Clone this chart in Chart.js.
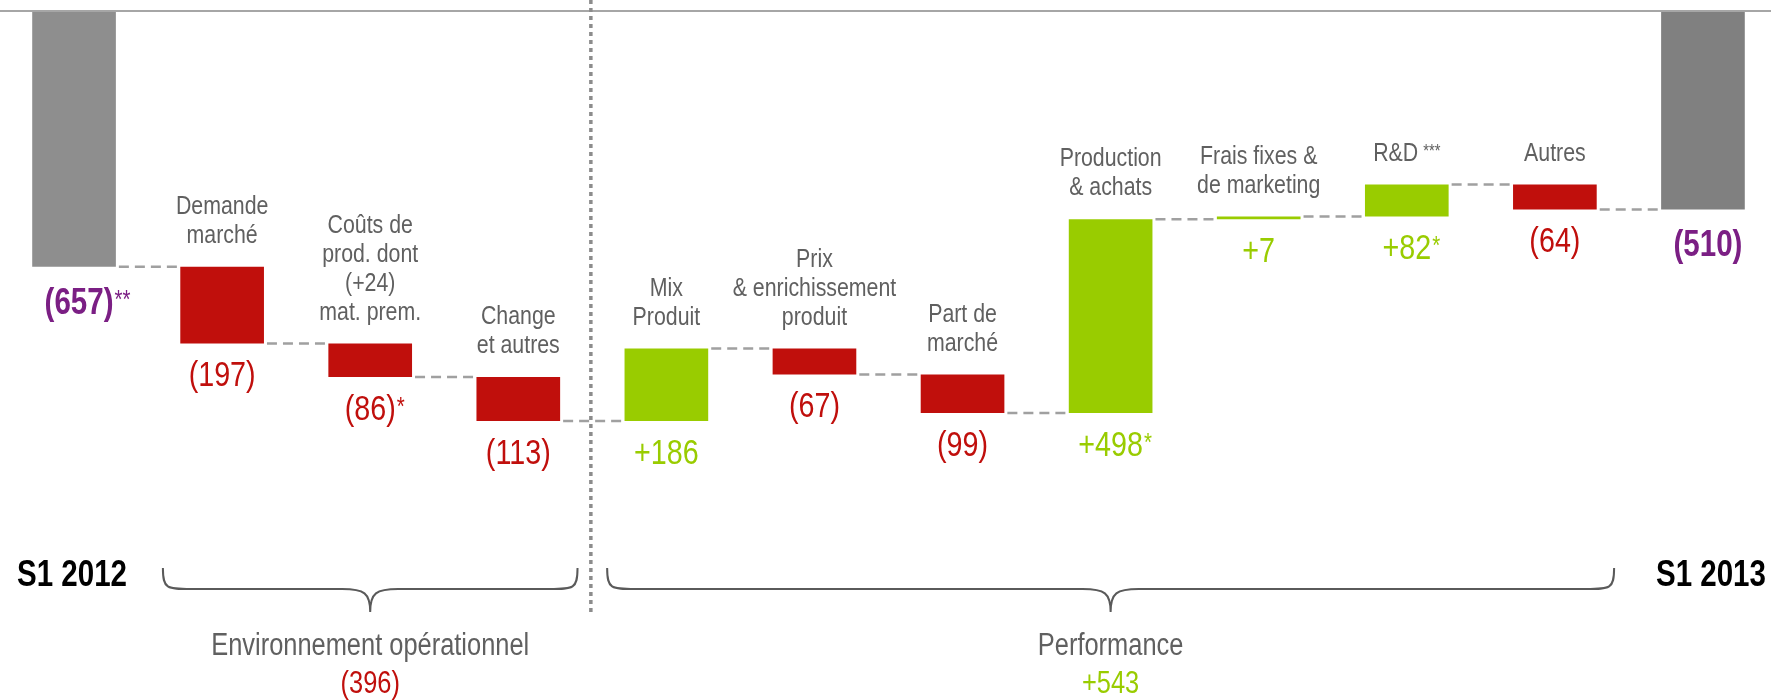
<!DOCTYPE html>
<html>
<head>
<meta charset="utf-8">
<script src="https://cdn.jsdelivr.net/npm/chart.js@4.4.1/dist/chart.umd.min.js"></script>
<style>
  html, body { margin: 0; padding: 0; background: #fff; overflow: hidden; }
  #wrap { width: 1777px; height: 700px; }
</style>
</head>
<body>
<div id="wrap"><canvas id="chart"></canvas></div>
<script>
// waterfall S1 2012 -> S1 2013
const categories = [
  [], ["Demande", "marché"], ["Coûts de", "prod. dont", "(+24)", "mat. prem."], ["Change", "et autres"],
  ["Mix", "Produit"], ["Prix", "& enrichissement", "produit"], ["Part de", "marché"], ["Production", "& achats"],
  ["Frais fixes &", "de marketing"], ["R&D ***"], ["Autres"], []
];
const values = [-657, -197, -86, -113, 186, -67, -99, 498, 7, 82, -64, -510];
const isTotal = [true, false, false, false, false, false, false, false, false, false, false, true];
const valueLabels = ["(657)**", "(197)", "(86)*", "(113)", "+186", "(67)", "(99)", "+498*", "+7", "+82*", "(64)", "(510)"];
const periodLabels = ["S1 2012", "S1 2013"];
const groupNames = ["Environnement opérationnel", "Performance"];
const groupTotals = ["(396)", "+543"];
const groupFirst = [1, 4];
const groupLast = [3, 10];

const FONT = '"Liberation Sans", Arial, sans-serif';
const NARROW = 0.82; // squeeze to look like a narrow face
const RED = "#c00f0c", GREEN = "#99cc00", PURPLE = "#7b1f84", GREYTXT = "#606060";

let run = 0;
const ranges = values.map((v, i) => {
  if (isTotal[i]) { run = v; return [0, v]; }
  const a = run;
  run += v;
  return [a, run];
});

const barColors = values.map((v, i) => {
  if (isTotal[i]) return i === 0 ? "#8e8e8e" : "#808080";
  return v < 0 ? RED : GREEN;
});
const textColors = values.map((v, i) => isTotal[i] ? PURPLE : (v < 0 ? RED : GREEN));

function textW(ctx, t, font) {
  ctx.font = font;
  return ctx.measureText(t).width * NARROW;
}

// left-aligned narrow text
function narrowText(ctx, t, x, y, font, baseline) {
  ctx.save();
  ctx.font = font;
  ctx.textAlign = "left";
  ctx.textBaseline = baseline || "middle";
  ctx.translate(x, y);
  ctx.scale(NARROW, 1);
  ctx.fillText(t, 0, 0);
  ctx.restore();
}

function centerText(ctx, t, cx, y, font) {
  narrowText(ctx, t, cx - textW(ctx, t, font) / 2, y, font);
}

// text with trailing asterisks drawn as a small superscript
function drawNoted(ctx, text, cx, cy, size, weight, centerWhole) {
  const m = text.match(/^(.*?)\s*(\*+)$/);
  const main = m ? m[1] : text;
  const note = m ? m[2] : "";
  const f = weight + " " + size + "px " + FONT;
  const nsize = Math.round(size * 0.7);
  const nf = "normal " + nsize + "px " + FONT;
  const gap = centerWhole ? 5 : 1;
  const w = textW(ctx, main, f);
  const nw = note ? textW(ctx, note, nf) + gap : 0;
  const left = centerWhole ? cx - (w + nw) / 2 : cx - w / 2;
  narrowText(ctx, main, left, cy, f);
  if (note) narrowText(ctx, note, left + w + gap, cy - size * 0.38 + nsize * 0.72, nf, "alphabetic");
}

function brace(ctx, x0, x1, yTop, yLine, yTip) {
  const xm = (x0 + x1) / 2;
  const r = 28;
  ctx.beginPath();
  ctx.moveTo(x0, yTop);
  ctx.bezierCurveTo(x0, yLine, x0 + 4, yLine, x0 + r, yLine);
  ctx.lineTo(xm - r, yLine);
  ctx.bezierCurveTo(xm - 6, yLine, xm, yLine + 4, xm, yTip);
  ctx.bezierCurveTo(xm, yLine + 4, xm + 6, yLine, xm + r, yLine);
  ctx.lineTo(x1 - r, yLine);
  ctx.bezierCurveTo(x1 - 4, yLine, x1, yLine, x1, yTop);
  ctx.stroke();
}

const overlay = {
  id: "overlay",
  afterDatasetsDraw(chart) {
    const ctx = chart.ctx;
    const xs = chart.scales.x, ys = chart.scales.y;
    const bars = chart.getDatasetMeta(0).data;
    ctx.save();

    // top rule at zero
    ctx.strokeStyle = "#a6a6a6";
    ctx.lineWidth = 2;
    ctx.beginPath();
    ctx.moveTo(0, ys.getPixelForValue(0));
    ctx.lineTo(chart.width, ys.getPixelForValue(0));
    ctx.stroke();

    // connectors
    ctx.strokeStyle = "#a0a0a0";
    ctx.lineWidth = 2.5;
    ctx.setLineDash([10, 6]);
    for (let i = 0; i < bars.length - 1; i++) {
      const yy = ys.getPixelForValue(ranges[i][1]);
      ctx.beginPath();
      ctx.moveTo(bars[i].x + bars[i].width / 2 + 3, yy);
      ctx.lineTo(bars[i + 1].x - bars[i + 1].width / 2 - 2, yy);
      ctx.stroke();
    }

    // separator between groups
    ctx.strokeStyle = "#8c8c8c";
    ctx.lineWidth = 3.5;
    ctx.setLineDash([4, 4]);
    const sx = xs.getPixelForValue(3.49);
    ctx.beginPath();
    ctx.moveTo(sx, 0);
    ctx.lineTo(sx, 612);
    ctx.stroke();
    ctx.setLineDash([]);

    // labels above and below bars
    bars.forEach((b, i) => {
      const top = Math.min(b.y, b.base), bottom = Math.max(b.y, b.base);
      const lines = categories[i];
      ctx.fillStyle = GREYTXT;
      lines.forEach((t, k) => {
        const cy = top - 31 - (lines.length - 1 - k) * 29;
        drawNoted(ctx, t, b.x, cy, 26, "normal", true);
      });
      ctx.fillStyle = textColors[i];
      if (isTotal[i]) {
        drawNoted(ctx, valueLabels[i], b.x + 5, bottom + 37, 36, "bold", false);
      } else {
        drawNoted(ctx, valueLabels[i], b.x, bottom + 33, 35, "normal", false);
      }
    });

    // period labels
    ctx.fillStyle = "#000";
    centerText(ctx, periodLabels[0], bars[0].x - 2, 576, "bold 36px " + FONT);
    centerText(ctx, periodLabels[1], bars[bars.length - 1].x + 8, 576, "bold 36px " + FONT);

    // group braces and totals
    ctx.strokeStyle = "#5a5a5a";
    ctx.lineWidth = 2;
    groupNames.forEach((g, k) => {
      const x0 = xs.getPixelForValue(groupFirst[k] - 0.4);
      const x1 = xs.getPixelForValue(groupLast[k] + 0.4);
      brace(ctx, x0, x1, 568, 589, 612);
      const xm = (x0 + x1) / 2;
      ctx.fillStyle = GREYTXT;
      centerText(ctx, g, xm, 646, "normal 31px " + FONT);
      ctx.fillStyle = groupTotals[k].startsWith("(") ? RED : GREEN;
      centerText(ctx, groupTotals[k], xm, 684, "normal 31px " + FONT);
    });

    ctx.restore();
  }
};

new Chart(document.getElementById("chart"), {
  type: "bar",
  data: {
    labels: categories.map((c, i) => c.length ? c.join(" ") : periodLabels[i ? 1 : 0]),
    datasets: [{
      data: ranges,
      backgroundColor: barColors,
      borderWidth: 0,
      categoryPercentage: 1,
      barPercentage: 0.565,
    }],
  },
  options: {
    responsive: true,
    maintainAspectRatio: false,
    animation: false,
    devicePixelRatio: 1,
    layout: { padding: { top: 11, bottom: 0, left: 0, right: 0 } },
    plugins: { legend: { display: false }, tooltip: { enabled: false } },
    events: [],
    scales: {
      x: { display: false },
      y: { display: false, min: -1770, max: 0 },
    },
  },
  plugins: [overlay],
});
</script>
</body>
</html>
